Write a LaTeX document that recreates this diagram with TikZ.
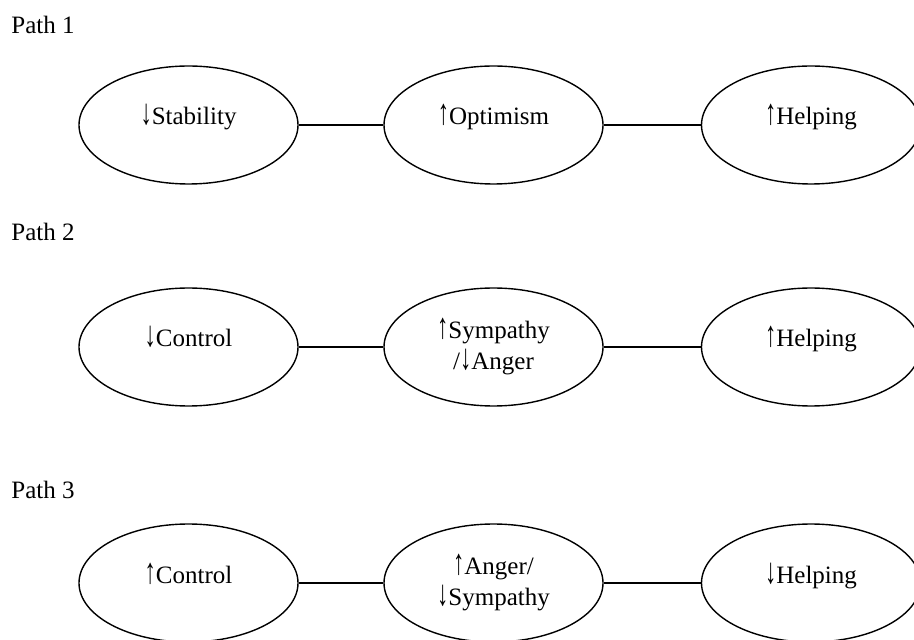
\documentclass[tikz,border=0pt]{standalone}
\usepackage{fontspec}
\usepackage{graphicx}
\setmainfont{Liberation Serif}
\usetikzlibrary{shapes.geometric}
\newcommand{\upar}{\scalebox{0.9}[1.45]{↑}}
\newcommand{\dnar}{\scalebox{0.9}[1.45]{↓}}
\tikzset{
	oval/.style={draw, ellipse, line width=0.7pt, minimum width=109.5pt, minimum height=59pt, inner sep=0pt, align=center, font=\fontsize{12.5}{15.5}\selectfont},
	single/.style={text height=9pt, text depth=9pt},
	pathlbl/.style={anchor=west, inner sep=0pt, font=\fontsize{12.5}{15.5}\selectfont},
	link/.style={line width=0.7pt}
}
\begin{document}
\begin{tikzpicture}[x=0.5pt, y=-0.5pt]
		\useasboundingbox (0, 0) rectangle (914, 640);

		\node[pathlbl] (p1) at (11, 25) {Path 1};
		\node[oval, single] (stab) at (188.5, 125) {\dnar Stability};
		\node[oval, single] (opt) at (493.5, 125) {\upar Optimism};
		\node[oval, single] (help1) at (811, 125) {\upar Helping};
		\draw[link] (stab) -- (opt);
		\draw[link] (opt) -- (help1);

		\node[pathlbl] (p2) at (11, 232) {Path 2};
		\node[oval, single] (ctrl2) at (188.5, 347) {\dnar Control};
		\node[oval] (symp2) at (493.5, 347) {\upar Sympathy\\/\dnar Anger};
		\node[oval, single] (help2) at (811, 347) {\upar Helping};
		\draw[link] (ctrl2) -- (symp2);
		\draw[link] (symp2) -- (help2);

		\node[pathlbl] (p3) at (11, 490) {Path 3};
		\node[oval, single] (ctrl3) at (188.5, 583) {\upar Control};
		\node[oval] (ang3) at (493.5, 583) {\upar Anger/\\\dnar Sympathy};
		\node[oval, single] (help3) at (811, 583) {\dnar Helping};
		\draw[link] (ctrl3) -- (ang3);
		\draw[link] (ang3) -- (help3);
	\end{tikzpicture}
\end{document}
